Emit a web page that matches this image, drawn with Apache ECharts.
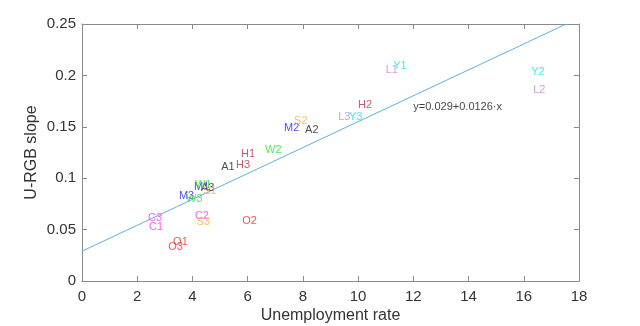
<!DOCTYPE html>
<html><head><meta charset="utf-8">
<script src="https://cdn.jsdelivr.net/npm/echarts@6/dist/echarts.min.js"></script>
<style>html,body{margin:0;padding:0;background:#fff}#c{width:640px;height:326px}</style>
</head><body><div id="c"></div>
<script>
const labels = ['A1','A2','A3','C1','C2','C3','H1','H2','H3','L1','L2','L3','M1','M2','M3','O1','O2','O3','S1','S2','S3','W1','W2','W3','Y1','Y2','Y3'];
const unemployment = [5.04,8.08,4.31,2.43,4.09,2.39,5.76,10.0,5.58,11.0,16.34,9.28,4.06,7.32,3.51,3.30,5.80,3.12,4.38,7.68,4.15,4.09,6.63,3.77,11.27,16.27,9.67];
const slope = [0.111,0.147,0.0905,0.0525,0.063,0.0613,0.124,0.171,0.113,0.205,0.186,0.160,0.0914,0.149,0.0827,0.038,0.058,0.033,0.0875,0.156,0.057,0.0934,0.127,0.080,0.209,0.203,0.160];
const groupColors = {A:'#222222',C:'#f040f0',H:'#b8304c',L:'#c488c8',M:'#2020f0',O:'#f02828',S:'#f0b040',W:'#30e030',Y:'#20e0f0'};
const fitX = [0, 17.54];
const fitY = [0.029, 0.25];
const fitText = 'y=0.029+0.0126·x';
const fitTextPos = [12.0, 0.169];
const xTicks = [0,2,4,6,8,10,12,14,16,18];
const yTicks = [0,0.05,0.1,0.15,0.2,0.25];

const chart = echarts.init(document.getElementById('c'));
const font = 'Liberation Sans, Arial, sans-serif';
const axisCol = '#8a8a8a';
const pts = labels.map((l,i)=>({value:[unemployment[i],slope[i]], label:{color:groupColors[l[0]], formatter:l}}));
const common = () => ({
  axisLine:{show:true,onZero:false,lineStyle:{color:axisCol,width:1}},
  axisTick:{show:true,inside:true,length:5,lineStyle:{color:axisCol}},
  splitLine:{show:false}
});
chart.setOption({
  animation:false,
  grid:{left:82,right:61,top:24,bottom:45,containLabel:false,outerBoundsMode:'none'},
  xAxis:[
    Object.assign({type:'value',min:0,max:18,interval:2,position:'bottom',
      name:'Unemployment rate',nameLocation:'middle',nameGap:27,nameMoveOverlap:false,
      nameTextStyle:{fontFamily:font,fontSize:16,color:'#333'},
      axisLabel:{fontFamily:font,fontSize:15,color:'#333',margin:8}},common()),
    Object.assign({type:'value',min:0,max:18,interval:2,position:'top',axisLabel:{show:false}},common())
  ],
  yAxis:[
    Object.assign({type:'value',min:0,max:0.25,interval:0.05,position:'left',
      name:'U-RGB slope',nameLocation:'middle',nameGap:42,nameMoveOverlap:false,
      nameTextStyle:{fontFamily:font,fontSize:16,color:'#333'},
      axisLabel:{fontFamily:font,fontSize:15,color:'#333',margin:6,formatter:v=>String(+v.toFixed(2))}},common()),
    Object.assign({type:'value',min:0,max:0.25,interval:0.05,position:'right',axisLabel:{show:false}},common())
  ],
  series:[
    {type:'line',data:fitX.map((x,i)=>[x,fitY[i]]),symbol:'none',lineStyle:{color:'#62aee0',width:1},z:1},
    {type:'scatter',symbolSize:0,data:pts,z:3,
      label:{show:true,position:[0,0],align:'left',verticalAlign:'middle',fontFamily:font,fontSize:11}},
    {type:'scatter',symbolSize:0,data:[{value:fitTextPos}],z:3,
      label:{show:true,position:[0,0],align:'left',verticalAlign:'middle',fontFamily:font,fontSize:11,color:'#111',formatter:fitText}}
  ]
});
</script></body></html>
